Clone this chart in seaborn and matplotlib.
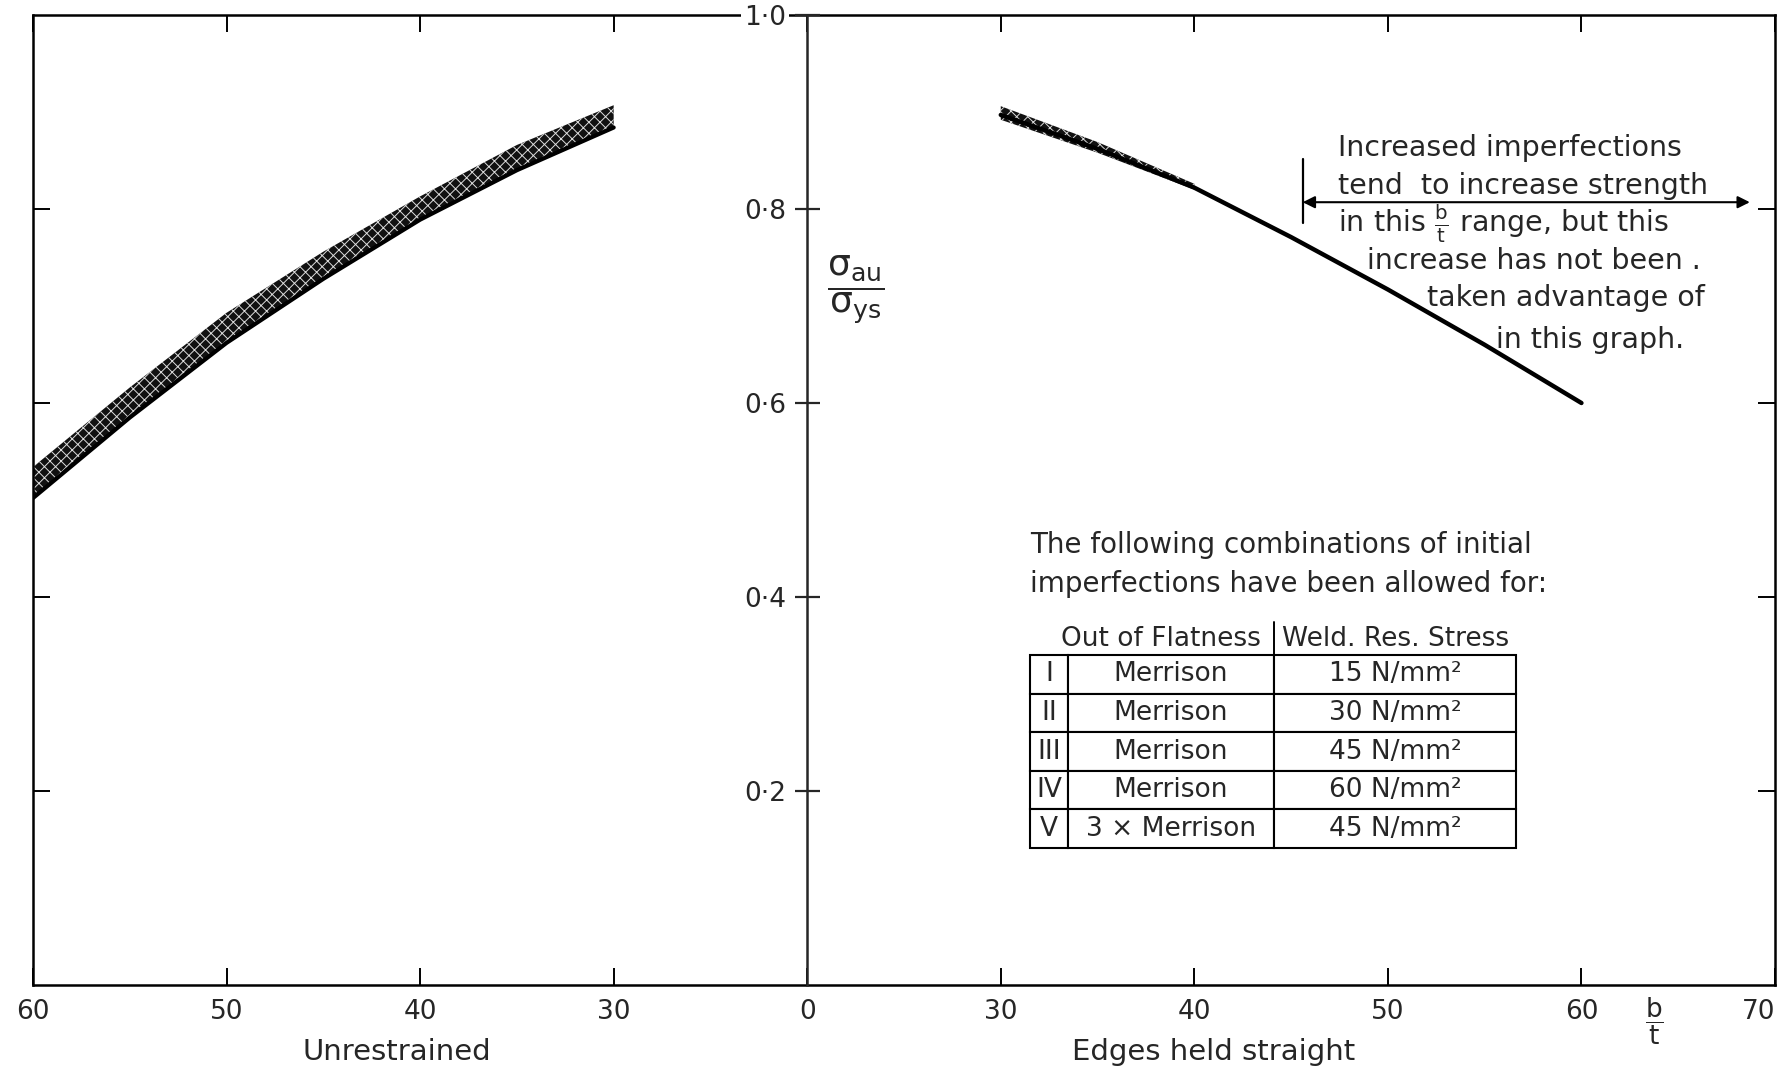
import matplotlib
matplotlib.use('Agg')
import matplotlib.pyplot as plt
import seaborn as sns

# b/t values
bt_unres = [60, 55, 50, 45, 40, 35, 30]
unres_low = [0.502, 0.585, 0.662, 0.728, 0.789, 0.840, 0.884]
unres_high = [0.534, 0.616, 0.693, 0.756, 0.813, 0.866, 0.907]

bt_edges = [30, 35, 40, 45, 50, 55, 60]
edges_val = [0.897, 0.862, 0.822, 0.771, 0.717, 0.660, 0.600]
bt_edges_band = [30, 35, 40]
edges_band_low = [0.892, 0.858, 0.820]
edges_band_high = [0.906, 0.869, 0.826]

x_tick_pos = [-40, -30, -20, -10, 0, 10, 20, 30, 40, 50]
x_tick_labels = ['60', '50', '40', '30', '0', '30', '40', '50', '60', '70']
y_ticks = [0.2, 0.4, 0.6, 0.8, 1.0]
y_tick_labels = ['0·2', '0·4', '0·6', '0·8', '1·0']

row_ids = ['I', 'II', 'III', 'IV', 'V']
flatness = ['Merrison', 'Merrison', 'Merrison', 'Merrison', '3 × Merrison']
weld_stress = [15, 30, 45, 60, 45]

note_lines = ['Increased imperfections',
              'tend  to increase strength',
              'in this $\\frac{\\mathrm{b}}{\\mathrm{t}}$ range, but this',
              'increase has not been .',
              'taken advantage of',
              'in this graph.']


def left_u(bt):
    # left panel runs 60 -> 30, then a short break to 0 at the centre
    return [20 - b for b in bt]


def right_u(bt):
    return [b - 20 for b in bt]


sns.set_theme(style='ticks')
plt.rcParams['font.family'] = ['DejaVu Sans']
plt.rcParams['mathtext.fontset'] = 'dejavusans'
plt.rcParams['hatch.linewidth'] = 0.7

fig = plt.figure(figsize=(17.81, 10.69), dpi=100)
ax = fig.add_axes([0.01853, 0.07858, 0.97810, 0.90739])
ax.set_xlim(-40, 50)
ax.set_ylim(0, 1.0)

# unrestrained band
ax.fill_between(left_u(bt_unres), unres_low, unres_high,
                facecolor='#111111', edgecolor='#dddddd', hatch='xxx', linewidth=0)
sns.lineplot(x=left_u(bt_unres), y=unres_low, ax=ax, color='black', linewidth=3, sort=False)

# edges held straight
ax.fill_between(right_u(bt_edges_band), edges_band_low, edges_band_high,
                facecolor='#111111', edgecolor='#dddddd', hatch='xxx', linewidth=0)
sns.lineplot(x=right_u(bt_edges), y=edges_val, ax=ax, color='black', linewidth=3.2, sort=False)

# frame and ticks
for sp in ax.spines.values():
    sp.set_linewidth(1.8)
    sp.set_color('black')
ax.set_xticks(x_tick_pos, labels=x_tick_labels)
ax.set_yticks(y_ticks[:-1])
ax.tick_params(axis='x', direction='in', top=True, length=12, width=1.4,
               labelsize=19, pad=10, color='black')
ax.tick_params(axis='y', direction='in', left=True, right=True, length=12, width=1.4,
               labelleft=False, color='black')
ax.get_xticklabels()[-1].set_horizontalalignment('right')

# central sigma axis
sec = ax.secondary_yaxis(40 / 90)
sec.set_yticks(y_ticks, labels=y_tick_labels)
sec.spines['left'].set_linewidth(1.8)
sec.tick_params(axis='y', direction='inout', length=18, width=1.6, labelsize=19, pad=6)
sec.set_zorder(5)
sec.get_yticklabels()[-1].set_bbox(dict(facecolor='white', edgecolor='none', pad=2))

ax.text(2.5, 0.716, r'$\dfrac{\mathrm{σ}_{\mathrm{au}}}{\mathrm{σ}_{\mathrm{ys}}}$',
        fontsize=26, ha='center', va='center')

# x-axis captions
trans = ax.get_xaxis_transform()
ax.text(-21.2, -0.069, 'Unrestrained', fontsize=21, ha='center', va='center', transform=trans)
ax.text(21.0, -0.069, 'Edges held straight', fontsize=21, ha='center', va='center', transform=trans)
ax.text(43.75, -0.038, r'$\dfrac{\mathrm{b}}{\mathrm{t}}$', fontsize=19, ha='center', va='center',
        transform=trans)

# note on the right with range arrow
note_x = [27.4, 27.4, 27.4, 28.9, 32.0, 35.6]
note_y = [0.863, 0.824, 0.785, 0.746, 0.708, 0.665]
for txt, xx, yy in zip(note_lines, note_x, note_y):
    ax.text(xx, yy, txt, fontsize=20.5, ha='left', va='center')
ax.annotate('', xy=(48.7, 0.807), xytext=(25.6, 0.807),
            arrowprops=dict(arrowstyle='<|-|>', color='black', lw=1.5, mutation_scale=18,
                            shrinkA=0, shrinkB=0))
ax.plot([25.6, 25.6], [0.786, 0.852], color='black', lw=1.6)

# imperfection table
ax.text(0.5723, 0.4536, 'The following combinations of initial', fontsize=20,
        ha='left', va='center', transform=ax.transAxes)
ax.text(0.5723, 0.4134, 'imperfections have been allowed for:', fontsize=20,
        ha='left', va='center', transform=ax.transAxes)
ax.text(0.6475, 0.3567, 'Out of Flatness', fontsize=19, ha='center', va='center', transform=ax.transAxes)
ax.text(0.7824, 0.3567, 'Weld. Res. Stress', fontsize=19, ha='center', va='center', transform=ax.transAxes)
ax.plot([0.7124, 0.7124], [0.340, 0.374], color='black', lw=1.4, transform=ax.transAxes)

cells = [[r, f, f'{s} N/mm²'] for r, f, s in zip(row_ids, flatness, weld_stress)]
tbl = ax.table(cellText=cells, cellLoc='center', colWidths=[0.078, 0.424, 0.498],
               bbox=[0.5723, 0.1412, 0.279, 0.199])
tbl.auto_set_font_size(False)
tbl.set_fontsize(19)
for cell in tbl.get_celld().values():
    cell.set_linewidth(1.5)
    cell.set_edgecolor('black')

fig.savefig('out.png', dpi=100)
